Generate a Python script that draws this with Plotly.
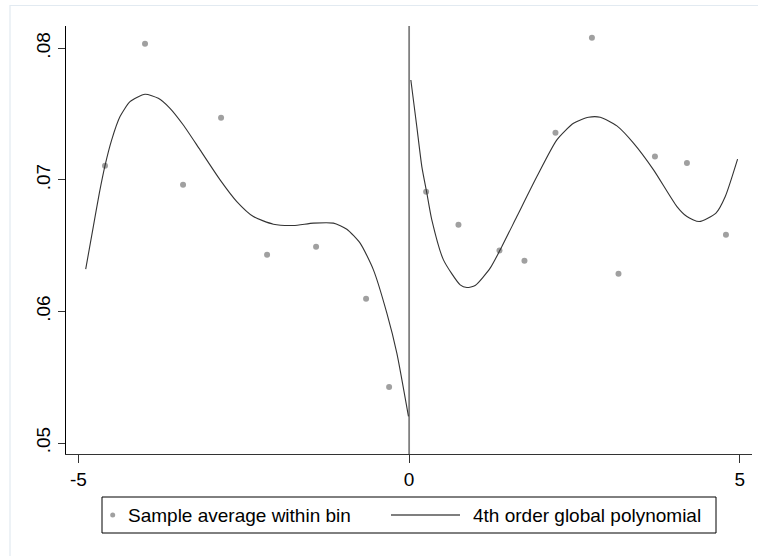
import plotly.graph_objects as go

# ---- data ----
bin_x = [-4.599, -3.994, -3.419, -2.844, -2.148, -1.407, -0.651, -0.303,
         0.257, 0.746, 1.366, 1.744, 2.213, 2.764, 3.166, 3.717, 4.201, 4.791]
bin_y = [0.07108, 0.08035, 0.06962, 0.07473, 0.06430, 0.06491, 0.06096, 0.05425,
         0.06909, 0.06658, 0.06463, 0.06385, 0.07359, 0.08081, 0.06286, 0.07177, 0.07129, 0.06582]

fit_left_x = [-4.891, -4.776, -4.685, -4.599, -4.498, -4.372, -4.221, -3.994, -3.793,
              -3.616, -3.415, -3.162, -2.859, -2.606, -2.355, -2.053, -1.750, -1.448,
              -1.145, -0.942, -0.741, -0.540, -0.337, -0.186, -0.010]
fit_left_y = [0.06322, 0.06645, 0.06899, 0.07108, 0.07304, 0.07481, 0.07594, 0.07651, 0.07620,
              0.07544, 0.07417, 0.07228, 0.07000, 0.06835, 0.06721, 0.06663, 0.06653, 0.06671,
              0.06671, 0.06625, 0.06519, 0.06316, 0.05987, 0.05684, 0.05202]

fit_right_x = [0.026, 0.116, 0.192, 0.268, 0.343, 0.519, 0.772, 0.873, 0.998, 1.225,
               1.377, 1.629, 1.932, 2.234, 2.486, 2.713, 2.890, 3.142, 3.393, 3.696,
               4.050, 4.201, 4.387, 4.640, 4.781, 4.967]
fit_right_y = [0.07759, 0.07405, 0.07101, 0.06899, 0.06696, 0.06392, 0.06202, 0.06182, 0.06197, 0.06329,
               0.06468, 0.06721, 0.07025, 0.07304, 0.07430, 0.07476, 0.07476, 0.07410, 0.07279, 0.07076,
               0.06797, 0.06721, 0.06683, 0.06747, 0.06873, 0.07157]

x_tick_vals = [-5, 0, 5]
x_tick_text = ["-5", "0", "5"]
y_tick_vals = [0.05, 0.06, 0.07, 0.08]
y_tick_text = [".05", ".06", ".07", ".08"]

legend_labels = ["Sample average within bin", "4th order global polynomial"]
cutoff = 0

FONT = "Liberation Sans, Arial, sans-serif"
W, H = 758, 556
L, R, T, B = 66, 6, 26, 102
PW, PH = W - L - R, H - T - B


def px_x(p):
    return (p - L) / PW


def px_y(p):
    return (H - B - p) / PH


fig = go.Figure()

fig.add_trace(go.Scatter(
    x=bin_x, y=bin_y, mode="markers", name=legend_labels[0],
    marker=dict(color="#a0a0a0", size=6, line=dict(width=0)),
    showlegend=False))

fig.add_trace(go.Scatter(
    x=fit_left_x, y=fit_left_y, mode="lines", name=legend_labels[1],
    line=dict(color="#333333", width=1.1, shape="spline", smoothing=0.6), showlegend=False))

fig.add_trace(go.Scatter(
    x=fit_right_x, y=fit_right_y, mode="lines", name=legend_labels[1],
    line=dict(color="#333333", width=1.1, shape="spline", smoothing=0.6), showlegend=False))

shapes = [
    # cutoff line
    dict(type="line", xref="x", yref="paper", x0=cutoff, x1=cutoff, y0=0, y1=1,
         line=dict(color="#808080", width=1.8), layer="below"),
    # outer graph-region frame
    dict(type="rect", xref="paper", yref="paper",
         x0=px_x(10), x1=px_x(760), y0=px_y(560), y1=px_y(5.5),
         line=dict(color="#e2eaf1", width=1.2), fillcolor="rgba(0,0,0,0)"),
    # legend box
    dict(type="rect", xref="paper", yref="paper",
         x0=px_x(102), x1=px_x(716), y0=px_y(533), y1=px_y(497),
         line=dict(color="#000000", width=1), fillcolor="white"),
    # legend marker
    dict(type="circle", xref="paper", yref="paper", xsizemode="pixel", ysizemode="pixel",
         xanchor=px_x(112.7), yanchor=px_y(515), x0=-2.5, x1=2.5, y0=-2.5, y1=2.5,
         line=dict(width=0), fillcolor="#a0a0a0"),
    # legend line
    dict(type="line", xref="paper", yref="paper",
         x0=px_x(391), x1=px_x(460), y0=px_y(515), y1=px_y(515),
         line=dict(color="#000000", width=1.1)),
]

annotations = [
    dict(text=legend_labels[0], xref="paper", yref="paper", x=px_x(126), y=px_y(515),
         xanchor="left", yanchor="middle", showarrow=False,
         font=dict(family=FONT, size=19, color="#000000")),
    dict(text=legend_labels[1], xref="paper", yref="paper", x=px_x(471), y=px_y(515),
         xanchor="left", yanchor="middle", showarrow=False,
         font=dict(family=FONT, size=19, color="#000000")),
]

fig.update_layout(
    width=W, height=H,
    margin=dict(l=L, r=R, t=T, b=B, pad=0),
    paper_bgcolor="white", plot_bgcolor="white",
    font=dict(family=FONT, size=19, color="#000000"),
    shapes=shapes, annotations=annotations,
    showlegend=False,
)

fig.update_xaxes(
    range=[-5.189, 5.185], tickvals=x_tick_vals, ticktext=x_tick_text,
    ticks="outside", ticklen=8, tickwidth=1, tickcolor="#333333",
    showline=True, linecolor="#333333", linewidth=1,
    showgrid=False, zeroline=False, tickfont=dict(size=19),
)
fig.update_yaxes(
    range=[0.049165, 0.081694], tickvals=y_tick_vals, ticktext=y_tick_text,
    ticks="outside", ticklen=7, tickwidth=1, tickcolor="#333333", tickangle=-90,
    showline=True, linecolor="#000000", linewidth=1,
    showgrid=False, zeroline=False, tickfont=dict(size=19),
)

fig.write_html("out.html")
